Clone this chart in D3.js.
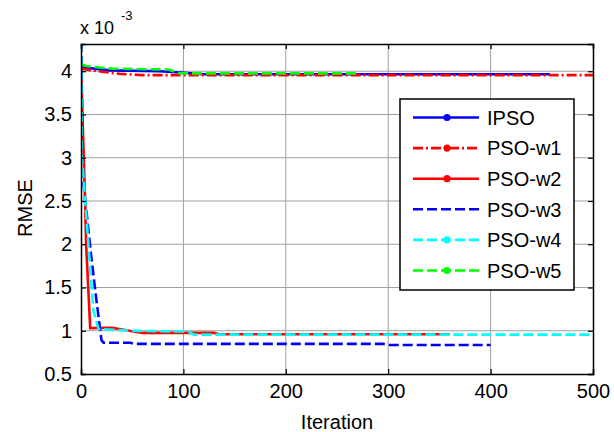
<!DOCTYPE html>
<html><head><meta charset="utf-8">
<script src="https://cdn.jsdelivr.net/npm/d3@7"></script>
<style>body{margin:0;background:#fff}svg{display:block}text{font-family:"Liberation Sans",Arial,sans-serif;fill:#000}</style>
</head><body><svg id="c" width="614" height="432"></svg>
<script>
// ---- data ----
const xTicks = [0, 100, 200, 300, 400, 500];
const yTicks = [0.5, 1, 1.5, 2, 2.5, 3, 3.5, 4];
const yTickLabels = ["0.5", "1", "1.5", "2", "2.5", "3", "3.5", "4"];
const seriesNames = ["IPSO", "PSO-w1", "PSO-w2", "PSO-w3", "PSO-w4", "PSO-w5"];

const ipsoX = [0, 5, 28, 77, 97, 120, 458];
const ipsoY = [4.05, 4.04, 4.01, 4.0, 3.985, 3.965, 3.965];
const w1X = [0, 10, 38, 60, 500];
const w1Y = [4.03, 4.01, 3.97, 3.955, 3.955];
const w2X = [0, 4, 5, 9, 30, 60, 130, 135, 360];
const w2Y = [4.05, 2.5, 2.0, 1.03, 1.035, 0.975, 0.975, 0.96, 0.96];
const w3X = [0, 2, 10, 15, 20, 22, 48, 52, 295, 300, 400];
const w3Y = [4.5, 2.75, 1.86, 1.36, 0.89, 0.862, 0.862, 0.848, 0.848, 0.835, 0.835];
const w4X = [0, 1, 12, 17, 50, 105, 110, 500];
const w4Y = [4.5, 3.0, 1.24, 1.02, 1.0, 0.99, 0.955, 0.955];
const w5X = [0, 5, 30, 85, 97, 270];
const w5Y = [4.08, 4.06, 4.03, 4.02, 3.975, 3.975];

// ---- chart ----
const svg = d3.select("#c");
const L = 81, R = 593, T = 44, B = 374;
const x = d3.scaleLinear().domain([0, 500]).range([L, R]);
const y = d3.scaleLinear().domain([0.5, 4.315]).range([B, T]);

const styles = [
  {c: "#0000ff", d: null, m: true},
  {c: "#ff0000", d: "10,3,2,3", m: true},
  {c: "#ff0000", d: null, m: true},
  {c: "#0000ff", d: "10,4", m: false},
  {c: "#00ffff", d: "10,4", m: true},
  {c: "#00ff00", d: "10,4", m: true}
];
const xs = [ipsoX, w1X, w2X, w3X, w4X, w5X];
const ys = [ipsoY, w1Y, w2Y, w3Y, w4Y, w5Y];

// grid
const g = svg.append("g");
g.selectAll(".gx").data(xTicks.slice(1, -1)).join("line")
  .attr("x1", d => x(d)).attr("x2", d => x(d)).attr("y1", T).attr("y2", B)
  .attr("stroke", "#a0a0a0").attr("stroke-width", 1);
g.selectAll(".gy").data(yTicks.slice(1)).join("line")
  .attr("y1", d => y(d)).attr("y2", d => y(d)).attr("x1", L).attr("x2", R)
  .attr("stroke", "#a0a0a0").attr("stroke-width", 1);

svg.append("clipPath").attr("id", "clip").append("rect")
  .attr("x", L).attr("y", T).attr("width", R - L).attr("height", B - T);

const line = d3.line().x(d => x(d[0])).y(d => y(d[1]));
const lg = svg.append("g").attr("clip-path", "url(#clip)");
xs.forEach((xv, i) => {
  const pts = xv.map((v, j) => [v, ys[i][j]]);
  lg.append("path").attr("d", line(pts)).attr("fill", "none")
    .attr("stroke", styles[i].c).attr("stroke-width", 2.6)
    .attr("stroke-dasharray", styles[i].d);
});

// axes
const axB = svg.append("g").attr("transform", `translate(0,${B})`)
  .call(d3.axisBottom(x).tickValues(xTicks).tickSize(-5).tickPadding(10).tickFormat(d3.format("d")));
const axT = svg.append("g").attr("transform", `translate(0,${T})`)
  .call(d3.axisTop(x).tickValues(xTicks).tickSize(-5).tickFormat(""));
const axL = svg.append("g").attr("transform", `translate(${L},0)`)
  .call(d3.axisLeft(y).tickValues(yTicks).tickSize(-5).tickPadding(9).tickFormat((d, i) => yTickLabels[i]));
const axR = svg.append("g").attr("transform", `translate(${R},0)`)
  .call(d3.axisRight(y).tickValues(yTicks).tickSize(-5).tickFormat(""));
[axB, axT, axL, axR].forEach(a => {
  a.select(".domain").attr("stroke", "#000").attr("stroke-width", 1.5);
  a.selectAll(".tick line").attr("stroke", "#000").attr("stroke-width", 1.2);
  a.selectAll("text").attr("font-size", 20).attr("font-family", '"Liberation Sans",Arial,sans-serif').attr("fill", "#000");
});
axB.selectAll("text").attr("dy", "0.71em").attr("y", 10);

// labels
svg.append("text").attr("x", (L + R) / 2).attr("y", 429).attr("text-anchor", "middle").attr("font-size", 20).text("Iteration");
svg.append("text").attr("transform", `translate(32,208) rotate(-90)`).attr("text-anchor", "middle").attr("font-size", 20).text("RMSE");
svg.append("text").attr("x", 80).attr("y", 34).attr("font-size", 18).text("x 10");
svg.append("text").attr("x", 121).attr("y", 20).attr("font-size", 13).text("-3");

// legend
const lx = 400, ly = 99, lw = 174, lh = 191;
const leg = svg.append("g");
leg.append("rect").attr("x", lx).attr("y", ly).attr("width", lw).attr("height", lh)
  .attr("fill", "#fff").attr("stroke", "#000").attr("stroke-width", 1.5);
seriesNames.forEach((n, i) => {
  const yy = ly + 18.5 + i * 30.6;
  leg.append("line").attr("x1", lx + 13).attr("x2", lx + 79).attr("y1", yy).attr("y2", yy)
    .attr("stroke", styles[i].c).attr("stroke-width", 2.6).attr("stroke-dasharray", styles[i].d);
  if (styles[i].m) leg.append("circle").attr("cx", lx + 47).attr("cy", yy).attr("r", 3.6).attr("fill", styles[i].c);
  leg.append("text").attr("x", lx + 87).attr("y", yy + 7.2).attr("font-size", 20).text(n);
});
</script></body></html>
